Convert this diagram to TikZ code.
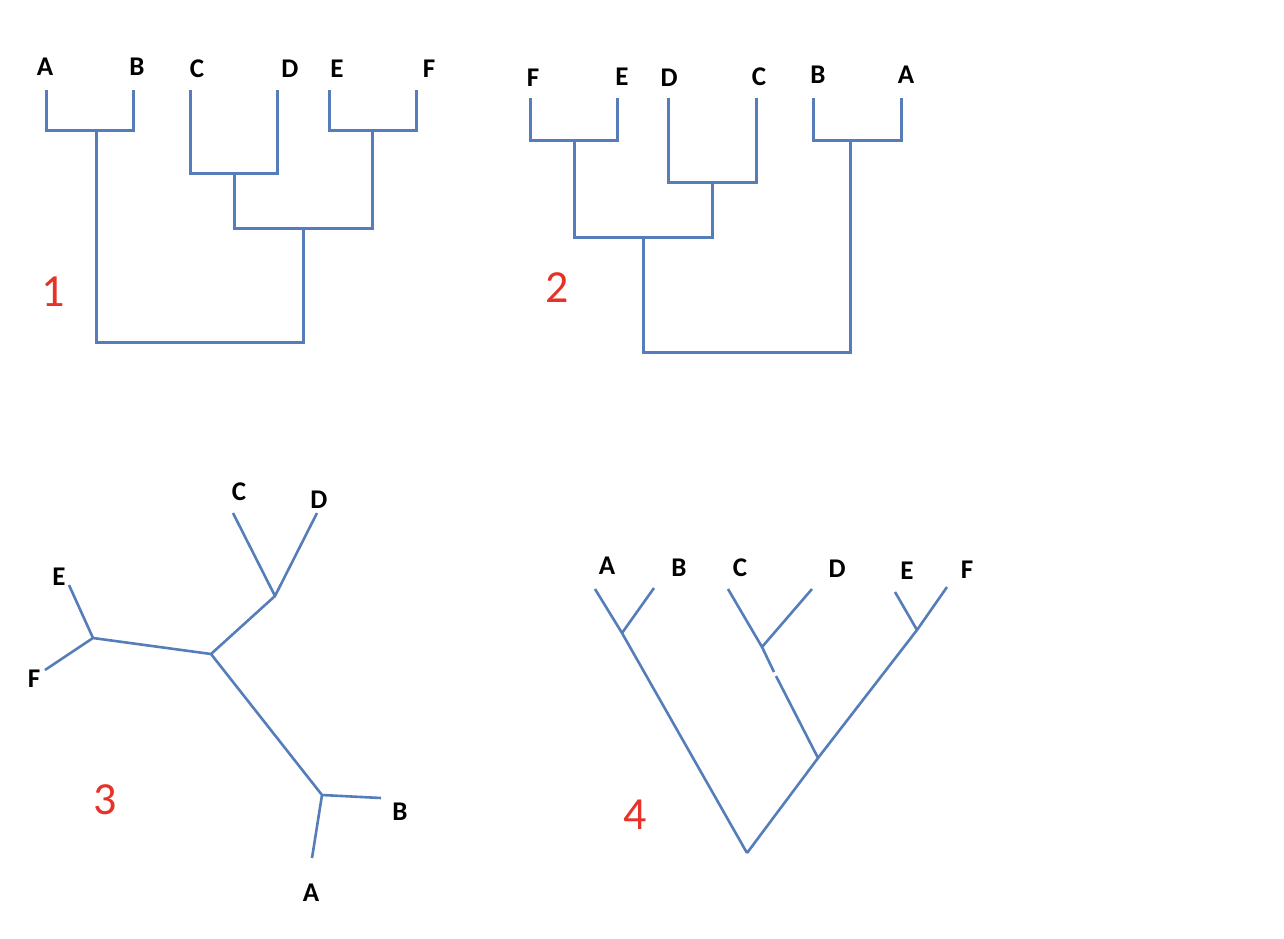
\documentclass[tikz,border=0pt]{standalone}
\usepackage{fontspec}
\setmainfont{Carlito}
\definecolor{tree}{RGB}{84,125,185}
\definecolor{num}{RGB}{230,50,40}
\begin{document}
\begin{tikzpicture}[x=1pt,y=-1pt,
  br/.style={draw=tree,line width=3pt},
  lbl/.style={font=\fontsize{27}{27}\selectfont\bfseries,inner sep=0pt},
  numlbl/.style={font=\fontsize{46}{46}\selectfont,text=num,inner sep=0pt}]
\useasboundingbox (0,0) rectangle (1284,938);
% ---------- tree 1
\path[br] (46,90) -- (46,130) -- (133,130) -- (133,90);
\path[br] (96,130) -- (96,342) -- (303,342) -- (303,228);
\path[br] (190,90) -- (190,173) -- (277,173) -- (277,90);
\path[br] (234,173) -- (234,228) -- (372,228) -- (372,130);
\path[br] (329,90) -- (329,130) -- (416,130) -- (416,90);
\node[lbl] (t1a) at (45,67) {A};
\node[lbl] (t1b) at (137,67) {B};
\node[lbl] (t1c) at (197,69) {C};
\node[lbl] (t1d) at (290,69) {D};
\node[lbl] (t1e) at (337,69) {E};
\node[lbl] (t1f) at (429,69) {F};
\node[numlbl] (n1) at (53,292) {1};
% ---------- tree 2
\path[br] (530,98) -- (530,140) -- (617,140) -- (617,98);
\path[br] (574,140) -- (574,237) -- (712,237) -- (712,182);
\path[br] (668,98) -- (668,182) -- (756,182) -- (756,98);
\path[br] (643,237) -- (643,352) -- (850,352) -- (850,140);
\path[br] (813,98) -- (813,140) -- (901,140) -- (901,98);
\node[lbl] (t2f) at (533,78) {F};
\node[lbl] (t2e) at (622,77) {E};
\node[lbl] (t2d) at (669,78) {D};
\node[lbl] (t2c) at (759,77) {C};
\node[lbl] (t2b) at (818,75) {B};
\node[lbl] (t2a) at (906,75) {A};
\node[numlbl] (n2) at (557,288) {2};
% ---------- tree 3
\coordinate (c3) at (211,654);
\coordinate (cd3) at (275,596);
\coordinate (ef3) at (93,638);
\coordinate (ab3) at (322,795);
\path[br,line width=2.6pt] (c3) -- (cd3) (c3) -- (ef3) (c3) -- (ab3)
  (cd3) -- (233,513) (cd3) -- (317,513)
  (ef3) -- (69,585) (ef3) -- (45,670)
  (ab3) -- (381,798) (ab3) -- (312,858);
\node[lbl] (t3c) at (239,492) {C};
\node[lbl] (t3d) at (319,500) {D};
\node[lbl] (t3e) at (59,577) {E};
\node[lbl] (t3f) at (34,679) {F};
\node[lbl] (t3b) at (400,812) {B};
\node[lbl] (t3a) at (311,893) {A};
\node[numlbl] (n3) at (105,800) {3};
% ---------- tree 4
\coordinate (r4) at (747,853);
\coordinate (ab4) at (622,633);
\coordinate (cf4) at (818,758);
\coordinate (ef4) at (917,630);
\coordinate (cd4) at (762,647);
\path[br,line width=2.6pt] (r4) -- (ab4) (r4) -- (cf4) -- (ef4)
  (ab4) -- (595,589) (ab4) -- (654,588)
  (ef4) -- (895,592) (ef4) -- (947,587)
  (cd4) -- (728,589) (cd4) -- (812,589)
  (cd4) -- (774,672) (776,676) -- (cf4);
\node[lbl] (t4a) at (607,566) {A};
\node[lbl] (t4b) at (679,568) {B};
\node[lbl] (t4c) at (740,568) {C};
\node[lbl] (t4d) at (837,569) {D};
\node[lbl] (t4e) at (907,571) {E};
\node[lbl] (t4f) at (967,570) {F};
\node[numlbl] (n4) at (635,815) {4};
\end{tikzpicture}
\end{document}
